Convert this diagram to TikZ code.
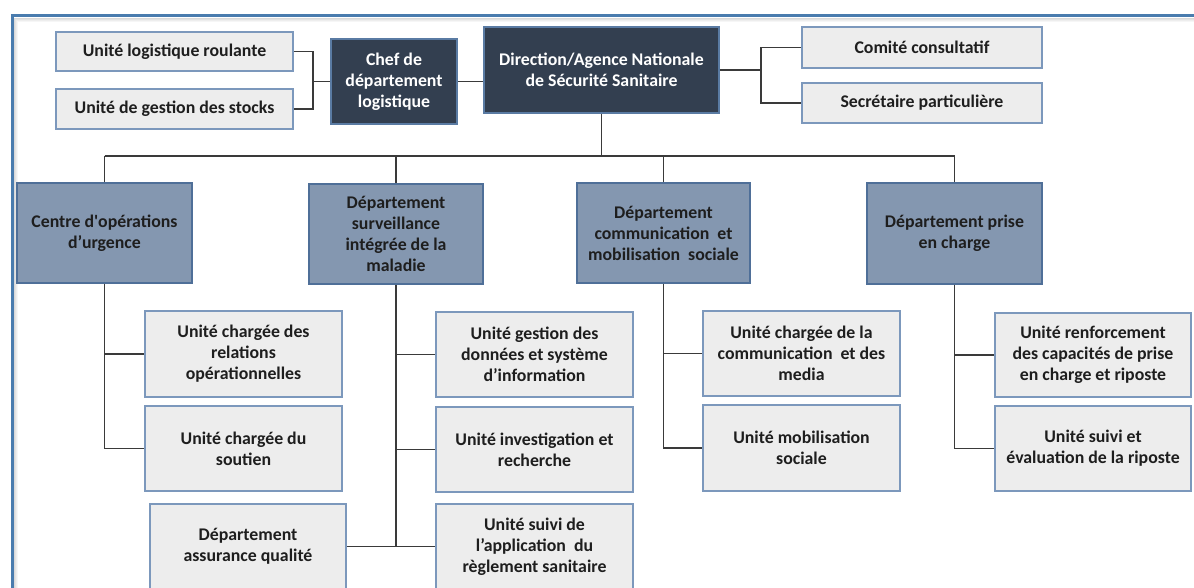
\documentclass[tikz,border=0pt]{standalone}
\usepackage{fontspec}
\setmainfont{Carlito}
\definecolor{headfill}{HTML}{333F50}
\definecolor{headline}{HTML}{5A7BA3}
\definecolor{deptfill}{HTML}{8497B0}
\definecolor{deptline}{HTML}{4F6F98}
\definecolor{unitfill}{HTML}{EDEDED}
\definecolor{unitline}{HTML}{7C98BC}
\definecolor{textdark}{HTML}{1E1E1E}
\definecolor{linkgray}{HTML}{3A3A3A}
\definecolor{framebl}{HTML}{4A7CAE}
\begin{document}
\begin{tikzpicture}[x=1pt,y=-1pt,
  box/.style={draw, line width=1.6pt, inner sep=2pt, align=center,
    font=\fontsize{17.8}{21}\selectfont\bfseries},
  wh/.style 2 args={minimum width=#1pt, minimum height=#2pt},
  head/.style={box, fill=headfill, draw=headline, text=white},
  dept/.style={box, fill=deptfill, draw=deptline, text=textdark},
  unit/.style={box, fill=unitfill, draw=unitline, text=textdark},
  link/.style={draw=linkgray, line width=1.9pt},
  rim/.style={line width=3pt, draw=framebl}]
\useasboundingbox (0,0) rectangle (1194,588);

% page frame with soft shadow
\foreach \d/\o in {1/0.30,2/0.22,3/0.14,4/0.07}{
  \draw[gray, line width=1pt, opacity=\o] (13.5+\d,17.5+\d) -- (1194,17.5+\d);
  \draw[gray, line width=1pt, opacity=\o] (13.5+\d,17.5+\d) -- (13.5+\d,588);
}
\draw[gray!70, line width=1pt] (10.5,14.5) -- (1194,14.5);
\draw[rim] (12,588) -- (12,16) -- (1194,16);

% top row
\node[unit, wh={237}{39}] (ulr) at (174.5,51.5) {Unité logistique roulante};
\node[unit, wh={237}{40}] (ugs) at (174.5,109) {Unité de gestion des stocks};
\node[head, wh={126}{85}] (chef) at (394,81.5) {Chef de\\département\\logistique};
\node[head, wh={235}{86}] (dir) at (601.5,70) {Direction/Agence Nationale\\de Sécurité Sanitaire};
\node[unit, wh={240}{41}] (comite) at (922,47.5) {Comité consultatif};
\node[unit, wh={240}{40}] (secr) at (922,103) {Secrétaire particulière};

% departments
\node[dept, wh={175}{100}] (coup) at (104.5,233) {Centre d\textquotesingle opérations\\d’urgence};
\node[dept, wh={174}{100}] (dsurv) at (396,234) {Département\\surveillance\\intégrée de la\\maladie};
\node[dept, wh={173}{100}] (dcom) at (663.5,233) {Département\\communication\ \ et\\mobilisation\ \ sociale};
\node[dept, wh={175}{101}] (dpec) at (954.5,233.5) {Département prise\\en charge};

% units
\node[unit, wh={197}{86}] (urel) at (243.5,354) {Unité chargée des\\relations\\opérationnelles};
\node[unit, wh={197}{85}] (usou) at (243.5,448.5) {Unité chargée du\\soutien};
\node[unit, wh={196}{85}] (daq) at (248,546.5) {Département\\assurance qualité};
\node[unit, wh={197}{85}] (ugest) at (534.5,354.5) {Unité gestion des\\données et système\\d’information};
\node[unit, wh={197}{85}] (uinv) at (534.5,449.5) {Unité investigation et\\recherche};
\node[unit, wh={197}{85}] (uapp) at (534.5,546.5) {Unité suivi de\\l’application\ \ du\\règlement sanitaire};
\node[unit, wh={197}{85}] (ucom) at (801.5,353.5) {Unité chargée de la\\communication\ \ et des\\media};
\node[unit, wh={197}{86}] (umob) at (801.5,448) {Unité mobilisation\\sociale};
\node[unit, wh={196}{84}] (uren) at (1093,355) {Unité renforcement\\des capacités de prise\\en charge et riposte};
\node[unit, wh={196}{85}] (usui) at (1093,448.5) {Unité suivi et\\évaluation de la riposte};

% top connectors
\draw[link] (ulr.east) -- ++(19,0) |- (chef.west);
\draw[link] (ugs.east) -- ++(19,0) |- (chef.west);
\draw[link] (chef.east) -- (chef.east -| dir.west);
\draw[link] (dir.east) -- ++(41,0) |- (comite.west);
\draw[link] (dir.east) -- ++(41,0) |- (secr.west);

% bus to the departments
\coordinate (bus) at (601.5,156);
\draw[link] (dir.south) -- (bus);
\draw[link] (coup.north |- bus) -- (dpec.north |- bus);
\foreach \n in {coup,dsurv,dcom,dpec}
  \draw[link] (\n.north |- bus) -- (\n.north);

% department branches
\draw[link] (coup.south) |- (usou.west);
\draw[link] (coup.south |- urel.west) -- (urel.west);
\draw[link] (dsurv.south) -- (dsurv.south |- daq.east);
\draw[link] (daq.east) -- (uapp.west);
\draw[link] (dsurv.south |- ugest.west) -- (ugest.west);
\draw[link] (dsurv.south |- uinv.west) -- (uinv.west);
\draw[link] (dcom.south) |- (umob.west);
\draw[link] (dcom.south |- ucom.west) -- (ucom.west);
\draw[link] (dpec.south) |- (usui.west);
\draw[link] (dpec.south |- uren.west) -- (uren.west);
\end{tikzpicture}
\end{document}
